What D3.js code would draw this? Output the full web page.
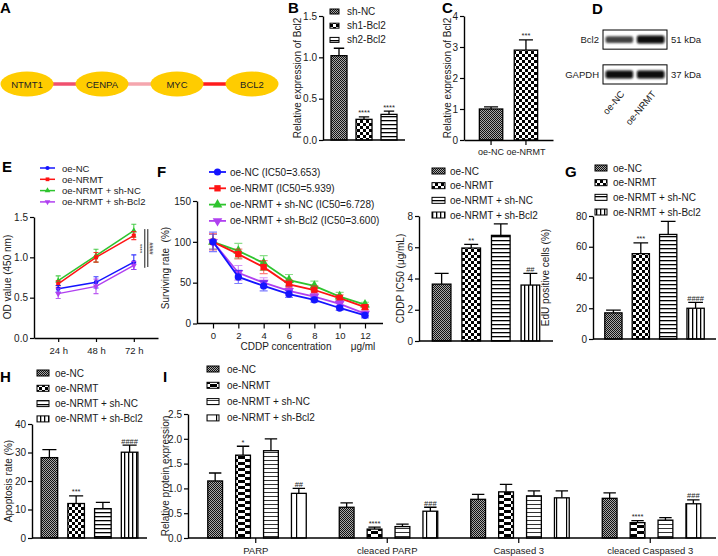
<!DOCTYPE html>
<html>
<head>
<meta charset="utf-8">
<script src="https://cdn.jsdelivr.net/npm/d3@7/dist/d3.min.js"></script>
<style>
html,body{margin:0;padding:0;background:#fff;}
svg{display:block;}
</style>
</head>
<body>
<svg id="fig" width="718" height="556" viewBox="0 0 718 556"></svg>
<script>
// ================= DATA =================
const networkGenes = ["NTMT1", "CENPA", "MYC", "BCL2"];

const bGroups = ["sh-NC", "sh1-Bcl2", "sh2-Bcl2"];
const bValues = [1.02, 0.25, 0.31];
const bErrors = [0.09, 0.03, 0.04];
const bSig = ["", "****", "****"];
const bTicks = [0, 0.5, 1.0, 1.5];

const cGroups = ["oe-NC", "oe-NRMT"];
const cValues = [1.0, 2.9];
const cErrors = [0.07, 0.33];
const cSig = ["", "***"];
const cTicks = [0, 1, 2, 3, 4];

const dProteins = ["Bcl2", "GAPDH"];
const dSizes = ["51 kDa", "37 kDa"];
const dLanes = ["oe-NC", "oe-NRMT"];
const dBandStrength = [[0.55, 1.0], [1.0, 1.0]];

const groups4 = ["oe-NC", "oe-NRMT", "oe-NRMT + sh-NC", "oe-NRMT + sh-Bcl2"];

const eTimes = ["24 h", "48 h", "72 h"];
const eValues = [
  [0.61, 0.69, 0.94],
  [0.67, 1.00, 1.27],
  [0.71, 1.02, 1.33],
  [0.55, 0.64, 0.90]
];
const eErrors = [
  [0.04, 0.07, 0.09],
  [0.04, 0.06, 0.05],
  [0.06, 0.08, 0.08],
  [0.06, 0.09, 0.05]
];
const eTicks = [0, 0.5, 1.0, 1.5];

const fConc = [0, 2, 4, 6, 8, 10, 12];
const fSeriesLabels = ["oe-NC (IC50=3.653)", "oe-NRMT (IC50=5.939)", "oe-NRMT + sh-NC (IC50=6.728)", "oe-NRMT + sh-Bcl2 (IC50=3.600)"];
const fValues = [
  [100, 57, 46, 36, 29, 19, 10],
  [100, 85, 69, 48, 41, 31, 20],
  [100, 89, 74, 53, 46, 33, 23],
  [100, 62, 50, 40, 33, 24, 12]
];
const fErrors = [
  [12, 8, 6, 4, 3, 3, 3],
  [10, 6, 8, 5, 5, 4, 3],
  [9, 9, 9, 7, 6, 5, 3],
  [9, 9, 6, 5, 4, 4, 3]
];
const fTicksY = [0, 50, 100, 150];

const fIC50Values = [3.64, 5.95, 6.76, 3.58];
const fIC50Errors = [0.69, 0.24, 0.73, 0.75];
const fIC50Sig = ["", "**", "", "##"];
const fIC50Ticks = [0, 2, 4, 6, 8];

const gValues = [17.0, 55.5, 68.0, 20.0];
const gErrors = [1.8, 7.0, 8.5, 3.8];
const gSig = ["", "***", "", "####"];
const gTicks = [0, 20, 40, 60, 80];

const hValues = [28.2, 12.1, 10.3, 30.1];
const hErrors = [2.8, 2.7, 2.2, 2.5];
const hSig = ["", "***", "", "####"];
const hTicks = [0, 10, 20, 30, 40];

const iProteins = ["PARP", "cleaced PARP", "Caspased 3", "cleaced Caspased 3"];
const iValues = [
  [1.15, 1.67, 1.76, 0.90],
  [0.62, 0.18, 0.23, 0.54],
  [0.78, 0.93, 0.85, 0.81],
  [0.80, 0.31, 0.36, 0.69]
];
const iErrors = [
  [0.16, 0.18, 0.24, 0.10],
  [0.09, 0.04, 0.05, 0.08],
  [0.10, 0.15, 0.10, 0.14],
  [0.11, 0.04, 0.05, 0.08]
];
const iSig = [
  ["", "*", "", "##"],
  ["", "****", "", "###"],
  ["", "", "", ""],
  ["", "****", "", "###"]
];
const iTicks = [0, 0.5, 1.0, 1.5, 2.0, 2.5];

// ================= STYLE / HELPERS =================
const svg = d3.select("#fig");
const FONT = '"Liberation Sans", Arial, Helvetica, sans-serif';
const INK = "#1a1a1a";
const defs = svg.append("defs");

function addPattern(id, w, h, bg, shapes) {
  const p = defs.append("pattern").attr("id", id).attr("patternUnits", "userSpaceOnUse")
    .attr("width", w).attr("height", h);
  p.append("rect").attr("width", w).attr("height", h).attr("fill", bg);
  shapes.forEach(s => p.append("rect").attr("x", s[0]).attr("y", s[1])
    .attr("width", s[2]).attr("height", s[3]).attr("fill", s[4]));
}
addPattern("pFine", 2, 2, "#a8a8a8", [[0, 0, 1, 1, "#111"], [1, 1, 1, 1, "#111"]]);
addPattern("pCheck", 6, 6, "#fff", [[0, 0, 3, 3, "#000"], [3, 3, 3, 3, "#000"]]);
addPattern("pHStripe", 4, 4, "#fff", [[0, 0, 4, 1.3, "#000"]]);
addPattern("pVStripe", 4, 4, "#fff", [[0, 0, 1.3, 4, "#000"]]);
addPattern("pBrick", 14, 6, "#fff", [[0, 0, 7, 3, "#000"], [7, 3, 7, 3, "#000"]]);
addPattern("pHThin", 4, 4, "#fff", [[0, 0, 4, 1, "#333"]]);
addPattern("pVSparse", 10, 10, "#fff", [[6, 0, 1.2, 10, "#000"]]);

const blur = defs.append("filter").attr("id", "blotBlur")
  .attr("x", "-30%").attr("y", "-100%").attr("width", "160%").attr("height", "300%");
blur.append("feGaussianBlur").attr("stdDeviation", 1.1);

const fill4 = ["url(#pFine)", "url(#pCheck)", "url(#pHStripe)", "url(#pVStripe)"];
const fillI = ["url(#pFine)", "url(#pBrick)", "url(#pHThin)", "url(#pVSparse)"];
const seriesColors = ["#1414ff", "#ff1414", "#2ec42e", "#b040f0"];
const seriesSymbols = [d3.symbolCircle, d3.symbolSquare, d3.symbolTriangle, d3.symbolTriangle];
const symbolRot = [0, 0, 0, 180];
const edgeColors = ["#f0506e", "#f5a6ae", "#ff1c1c"];

function txt(g, x, y, s, o = {}) {
  return g.append("text").attr("x", x).attr("y", y).text(s)
    .attr("font-family", FONT).attr("font-size", o.size || 10)
    .attr("fill", o.fill || INK).attr("text-anchor", o.anchor || "start")
    .attr("font-weight", o.weight || "normal")
    .attr("dominant-baseline", o.base || "auto");
}
function vtxt(g, x, y, s, size = 10) {
  return g.append("text").attr("transform", `translate(${x},${y}) rotate(-90)`)
    .attr("text-anchor", "middle").attr("dominant-baseline", "central")
    .attr("font-family", FONT).attr("font-size", size).attr("fill", INK)
    .style("white-space", "pre").text(s);
}
function panelLetter(x, y, s) { txt(svg, x, y, s, { size: 15, weight: "bold", fill: "#000" }); }

function styleAxis(a, fs) {
  a.attr("font-family", FONT).attr("font-size", fs);
  a.select(".domain").attr("stroke", "#000").attr("stroke-width", 1.4);
  a.selectAll(".tick line").attr("stroke", "#000").attr("stroke-width", 1.2);
  a.selectAll(".tick text").attr("fill", INK);
}
function yAxis(g, y, x0, ticks, fmt, fs, ts = 4) {
  const a = g.append("g").attr("transform", `translate(${x0},0)`)
    .call(d3.axisLeft(y).tickValues(ticks).tickFormat(fmt).tickSize(ts).tickSizeOuter(0).tickPadding(2));
  styleAxis(a, fs);
  return a;
}
function barLegend(g, x, y0, dy, names, fills, o = {}) {
  const w = o.w || 12, h = o.h || 6, gap = o.gap || 18, fs = o.fs || 10;
  names.forEach((n, i) => {
    const yy = y0 + i * dy;
    g.append("rect").attr("x", x).attr("y", yy - h / 2).attr("width", w).attr("height", h)
      .attr("fill", fills[i]).attr("stroke", "#000").attr("stroke-width", 1);
    txt(g, x + gap, yy, n, { size: fs, base: "central" });
  });
}
function sigText(g, x, y, s) {
  if (s) txt(g, x, y, s, { size: 7.5, anchor: "middle", fill: "#222" });
}

function barPanel(o) {
  const g = svg.append("g");
  const y = d3.scaleLinear().domain([0, o.max]).range([o.y0, o.y1]);
  const x = d3.scaleBand().domain(o.groups).range([o.x0, o.x1]).paddingInner(o.pi).paddingOuter(o.po);
  const bw = x.bandwidth();
  const data = o.groups.map((k, i) => ({ k, v: o.values[i], e: o.errors[i], s: o.sig[i], f: o.fills[i] }));
  g.selectAll("path.err").data(data).join("path").attr("class", "err")
    .attr("d", d => {
      const cx = x(d.k) + bw / 2, t = y(d.v + d.e), c = bw * o.cap / 2;
      return `M${cx},${y(d.v)}V${t}M${cx - c},${t}H${cx + c}`;
    })
    .attr("stroke", "#000").attr("stroke-width", 1.3).attr("fill", "none");
  g.selectAll("rect.bar").data(data).join("rect").attr("class", "bar")
    .attr("x", d => x(d.k)).attr("y", d => y(d.v)).attr("width", bw)
    .attr("height", d => y(0) - y(d.v)).attr("fill", d => d.f)
    .attr("stroke", "#000").attr("stroke-width", 1.3);
  data.forEach(d => sigText(g, x(d.k) + bw / 2, y(d.v + d.e) - 1.5, d.s));
  yAxis(g, y, o.x0, o.ticks, o.fmt, o.fs || 10);
  if (o.xLabels) {
    const a = g.append("g").attr("transform", `translate(0,${o.y0})`)
      .call(d3.axisBottom(x).tickSize(5).tickSizeOuter(0).tickPadding(4));
    styleAxis(a, o.xfs || 10);
  } else {
    g.append("line").attr("x1", o.x0).attr("x2", o.x1).attr("y1", o.y0).attr("y2", o.y0)
      .attr("stroke", "#000").attr("stroke-width", 1.4);
  }
  vtxt(g, o.labelX, (o.y0 + o.y1) / 2 + (o.labelDy || 0), o.yLabel, 10);
  return g;
}

// ================= PANEL A : network =================
panelLetter(0, 13, "A");
{
  const g = svg.append("g");
  const xN = d3.scalePoint().domain(networkGenes).range([27, 252]);
  const yN = 84;
  for (let i = 0; i < networkGenes.length - 1; i++) {
    g.append("line").attr("x1", xN(networkGenes[i])).attr("x2", xN(networkGenes[i + 1]))
      .attr("y1", yN).attr("y2", yN).attr("stroke", edgeColors[i]).attr("stroke-width", 3.5);
  }
  g.selectAll("ellipse").data(networkGenes).join("ellipse")
    .attr("cx", d => xN(d)).attr("cy", yN).attr("rx", 26.5).attr("ry", 12.5).attr("fill", "#ffcc00");
  networkGenes.forEach(d => txt(g, xN(d), yN, d, { size: 9.5, anchor: "middle", base: "central", fill: "#222" }));
}

// ================= PANEL B =================
panelLetter(288, 13, "B");
{
  const g = barPanel({
    groups: bGroups, values: bValues, errors: bErrors, sig: bSig, fills: fill4.slice(0, 3),
    max: 1.5, y0: 140, y1: 16, x0: 323, x1: 405, pi: 0.36, po: 0.32, ticks: bTicks,
    fmt: d3.format(".1f"), cap: 0.65, yLabel: "Relative expression of Bcl2", labelX: 297
  });
  barLegend(g, 330, 11.5, 14.2, bGroups, fill4.slice(0, 3), { w: 9, h: 5, gap: 17 });
}

// ================= PANEL C =================
panelLetter(442, 13, "C");
barPanel({
  groups: cGroups, values: cValues, errors: cErrors, sig: cSig, fills: fill4.slice(0, 2),
  max: 4, y0: 140, y1: 16, x0: 464, x1: 553, pi: 0.33, po: 0.44, ticks: cTicks,
  fmt: d3.format("d"), cap: 0.6, xLabels: true, xfs: 9, yLabel: "Relative expression of Bcl2", labelX: 447
});

// ================= PANEL D : western blot =================
panelLetter(592, 14, "D");
{
  const g = svg.append("g");
  const laneX = d3.scaleBand().domain(dLanes).range([603, 667]).paddingInner(0.12).paddingOuter(0.08);
  const rowY = d3.scaleBand().domain(dProteins).range([30, 84]).paddingInner(0.45);
  dProteins.forEach((p, pi) => {
    const y0 = rowY(p), h = rowY.bandwidth();
    g.append("rect").attr("x", 603).attr("y", y0).attr("width", 64).attr("height", h)
      .attr("fill", "#fff").attr("stroke", "#000").attr("stroke-width", 1);
    dLanes.forEach((l, li) => {
      const s = dBandStrength[pi][li];
      const bh = h * 0.42 * (0.6 + 0.4 * s);
      g.append("rect").attr("x", laneX(l)).attr("y", y0 + h / 2 - bh / 2)
        .attr("width", laneX.bandwidth()).attr("height", bh).attr("rx", 2)
        .attr("fill", d3.interpolateRgb("#8a8a8a", "#080808")(s))
        .attr("filter", "url(#blotBlur)");
    });
    txt(g, 599, y0 + h / 2, p, { size: 9.5, anchor: "end", base: "central" });
    txt(g, 671, y0 + h / 2, dSizes[pi], { size: 9.5, base: "central" });
  });
  dLanes.forEach(l => {
    g.append("text").attr("transform", `translate(${laneX(l) + laneX.bandwidth() / 2 + 3},92) rotate(-50)`)
      .attr("text-anchor", "end").attr("dominant-baseline", "central")
      .attr("font-family", FONT).attr("font-size", 9.5).attr("fill", INK).text(l);
  });
}

// ================= PANEL E : line chart =================
panelLetter(2, 172, "E");
{
  const g = svg.append("g");
  const xE = d3.scalePoint().domain(eTimes).range([34, 158]).padding(0.64);
  const yE = d3.scaleLinear().domain([0, 1.5]).range([338, 217]);
  const order = [2, 1, 0, 3];
  order.forEach(si => {
    const col = seriesColors[si];
    eValues[si].forEach((v, ti) => {
      const cx = xE(eTimes[ti]), t = yE(v + eErrors[si][ti]), b = yE(v - eErrors[si][ti]);
      g.append("path").attr("d", `M${cx},${b}V${t}M${cx - 2.5},${t}H${cx + 2.5}M${cx - 2.5},${b}H${cx + 2.5}`)
        .attr("stroke", col).attr("stroke-width", 1.1).attr("fill", "none").attr("opacity", 0.85);
    });
    g.append("path").datum(eValues[si])
      .attr("d", d3.line().x((d, i) => xE(eTimes[i])).y(d => yE(d)))
      .attr("stroke", col).attr("stroke-width", 1.5).attr("fill", "none");
    g.selectAll(null).data(eValues[si]).join("path")
      .attr("transform", (d, i) => `translate(${xE(eTimes[i])},${yE(d)}) rotate(${symbolRot[si]})`)
      .attr("d", d3.symbol().type(seriesSymbols[si]).size(16)).attr("fill", col);
  });
  yAxis(g, yE, 34, eTicks, d3.format(".1f"), 10);
  const ax = g.append("g").attr("transform", "translate(0,338)")
    .call(d3.axisBottom(xE).tickSize(4).tickSizeOuter(0).tickPadding(5));
  styleAxis(ax, 9.5);
  vtxt(g, 7, 277, "OD value (450 nm)", 10);
  // significance brackets
  const sx = xE("72 h");
  g.append("line").attr("x1", sx + 11).attr("x2", sx + 11).attr("y1", yE(1.35)).attr("y2", yE(0.87))
    .attr("stroke", "#000").attr("stroke-width", 0.9);
  g.append("line").attr("x1", sx + 14).attr("x2", sx + 14).attr("y1", yE(1.35)).attr("y2", yE(0.88))
    .attr("stroke", "#000").attr("stroke-width", 0.9);
  g.append("text").attr("transform", `translate(${sx + 8.5},${yE(1.11)}) rotate(-90)`)
    .attr("text-anchor", "middle").attr("dominant-baseline", "central")
    .attr("font-family", FONT).attr("font-size", 6).attr("fill", "#222").text("****");
  g.append("text").attr("transform", `translate(${sx + 17.5},${yE(1.11)}) rotate(-90)`)
    .attr("text-anchor", "middle").attr("dominant-baseline", "central")
    .attr("font-family", FONT).attr("font-size", 5.5).attr("fill", "#222").text("####");
  // legend
  groups4.forEach((n, i) => {
    const yy = 168 + i * 11.3;
    g.append("line").attr("x1", 40).attr("x2", 55).attr("y1", yy).attr("y2", yy)
      .attr("stroke", seriesColors[i]).attr("stroke-width", 1.5);
    g.append("path").attr("transform", `translate(47.5,${yy}) rotate(${symbolRot[i]})`)
      .attr("d", d3.symbol().type(seriesSymbols[i]).size(14)).attr("fill", seriesColors[i]);
    txt(g, 62, yy, n, { size: 9.5, base: "central" });
  });
}

// ================= PANEL F : survival curve =================
panelLetter(157, 177, "F");
{
  const g = svg.append("g");
  const xF = d3.scaleLinear().domain([0, 12]).range([213, 365]);
  const yF = d3.scaleLinear().domain([0, 150]).range([323.5, 201]);
  const order = [2, 1, 3, 0];
  order.forEach(si => {
    const col = seriesColors[si];
    fValues[si].forEach((v, ti) => {
      const cx = xF(fConc[ti]), t = yF(v + fErrors[si][ti]), b = yF(v - fErrors[si][ti]);
      g.append("path").attr("d", `M${cx},${b}V${t}M${cx - 4},${t}H${cx + 4}M${cx - 4},${b}H${cx + 4}`)
        .attr("stroke", col).attr("stroke-width", 1.2).attr("fill", "none").attr("opacity", 0.55);
    });
    g.append("path").datum(fValues[si])
      .attr("d", d3.line().x((d, i) => xF(fConc[i])).y(d => yF(d)))
      .attr("stroke", col).attr("stroke-width", 1.8).attr("fill", "none");
    g.selectAll(null).data(fValues[si]).join("path")
      .attr("transform", (d, i) => `translate(${xF(fConc[i])},${yF(d)}) rotate(${symbolRot[si]})`)
      .attr("d", d3.symbol().type(seriesSymbols[si]).size(42)).attr("fill", col);
  });
  yAxis(g, yF, 197, fTicksY, d3.format("d"), 10);
  const ax = g.append("g").attr("transform", "translate(0,323.5)")
    .call(d3.axisBottom(xF).tickValues(fConc).tickFormat(d3.format("d")).tickSize(5).tickSizeOuter(0).tickPadding(4));
  styleAxis(ax, 9.5);
  ax.select(".domain").remove();
  g.append("line").attr("x1", 197).attr("x2", 383).attr("y1", 323.5).attr("y2", 323.5)
    .attr("stroke", "#000").attr("stroke-width", 1.4);
  txt(g, 286, 350, "CDDP concentration", { size: 10, anchor: "middle" });
  txt(g, 363, 350, "μg/ml", { size: 10, anchor: "middle" });
  vtxt(g, 165, 268, "Surviving rate  (%)", 10);
  fSeriesLabels.forEach((n, i) => {
    const yy = 172 + i * 16.3;
    g.append("line").attr("x1", 209).attr("x2", 226).attr("y1", yy).attr("y2", yy)
      .attr("stroke", seriesColors[i]).attr("stroke-width", 1.8);
    g.append("path").attr("transform", `translate(217.5,${yy}) rotate(${symbolRot[i]})`)
      .attr("d", d3.symbol().type(seriesSymbols[i]).size(40)).attr("fill", seriesColors[i]);
    txt(g, 230, yy, n, { size: 10, base: "central" });
  });
}

// ================= PANEL F (right) : IC50 bars =================
{
  const g = barPanel({
    groups: groups4, values: fIC50Values, errors: fIC50Errors, sig: fIC50Sig, fills: fill4,
    max: 8, y0: 341, y1: 216, x0: 419, x1: 553, pi: 0.37, po: 0.45, ticks: fIC50Ticks,
    fmt: d3.format("d"), cap: 0.75, yLabel: "CDDP IC50 (μg/mL)", labelX: 400
  });
  barLegend(g, 432, 171, 14.67, groups4, fill4, { w: 13, h: 6, gap: 18 });
}

// ================= PANEL G =================
panelLetter(565, 177, "G");
{
  const g = barPanel({
    groups: groups4, values: gValues, errors: gErrors, sig: gSig, fills: fill4,
    max: 80, y0: 339, y1: 216, x0: 593, x1: 716, pi: 0.37, po: 0.43, ticks: gTicks,
    fmt: d3.format("d"), cap: 0.85, yLabel: "EdU positive cells (%)", labelX: 545
  });
  barLegend(g, 595, 168, 14.67, groups4, fill4, { w: 12, h: 6, gap: 18 });
}

// ================= PANEL H =================
panelLetter(0, 382, "H");
{
  const g = barPanel({
    groups: groups4, values: hValues, errors: hErrors, sig: hSig, fills: fill4,
    max: 40, y0: 538, y1: 424, x0: 32, x1: 147, pi: 0.38, po: 0.34, ticks: hTicks,
    fmt: d3.format("d"), cap: 0.85, yLabel: "Apoptosis rate (%)", labelX: 8
  });
  barLegend(g, 37, 373, 15.3, groups4, fill4, { w: 12, h: 6, gap: 18 });
}

// ================= PANEL I : grouped bars =================
panelLetter(163, 382, "I");
{
  const g = svg.append("g");
  const xI = d3.scaleBand().domain(iProteins).range([190, 716]).padding(0);
  const xIin = d3.scaleBand().domain(groups4).range([8, 126]).paddingInner(0.47).paddingOuter(0.35);
  const yI = d3.scaleLinear().domain([0, 2.5]).range([538, 414]);
  const bw = xIin.bandwidth();
  const iData = iProteins.flatMap((p, pi) => groups4.map((gn, gi) => ({
    p, gn, gi, v: iValues[pi][gi], e: iErrors[pi][gi], s: iSig[pi][gi]
  })));
  const bx = d => xI(d.p) + xIin(d.gn);
  g.selectAll("path.err").data(iData).join("path").attr("class", "err")
    .attr("d", d => {
      const cx = bx(d) + bw / 2, t = yI(d.v + d.e), c = bw * 0.42;
      return `M${cx},${yI(d.v)}V${t}M${cx - c},${t}H${cx + c}`;
    })
    .attr("stroke", "#000").attr("stroke-width", 1.3).attr("fill", "none");
  g.selectAll("rect.bar").data(iData).join("rect").attr("class", "bar")
    .attr("x", bx).attr("y", d => yI(d.v)).attr("width", bw)
    .attr("height", d => yI(0) - yI(d.v)).attr("fill", d => fillI[d.gi])
    .attr("stroke", "#000").attr("stroke-width", 1.3);
  iData.forEach(d => sigText(g, bx(d) + bw / 2, yI(d.v + d.e) - 1.5, d.s));
  yAxis(g, yI, 188, iTicks, d3.format(".1f"), 10);
  const ax = g.append("g").attr("transform", "translate(0,538)")
    .call(d3.axisBottom(xI).tickSize(5).tickSizeOuter(0).tickPadding(4));
  styleAxis(ax, 9.5);
  ax.select(".domain").remove();
  g.append("line").attr("x1", 188).attr("x2", 716).attr("y1", 538).attr("y2", 538)
    .attr("stroke", "#000").attr("stroke-width", 1.4);
  vtxt(g, 165, 476, "Relative protein expression", 10);
  barLegend(g, 207, 369, 16.3, groups4, fillI, { w: 12, h: 6, gap: 20 });
}
</script>
</body>
</html>
